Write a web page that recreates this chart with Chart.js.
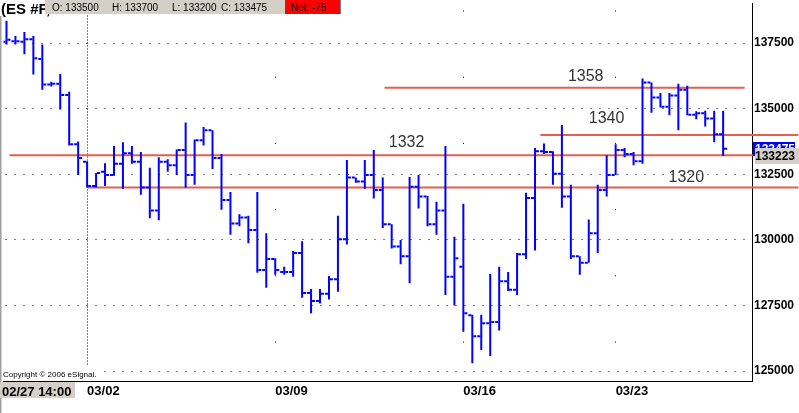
<!DOCTYPE html>
<html><head><meta charset="utf-8">
<script src="https://cdn.jsdelivr.net/npm/chart.js"></script>
<style>html,body{margin:0;padding:0;background:#fff;overflow:hidden}canvas{display:block}</style>
</head><body>
<canvas id="c" width="799" height="413"></canvas>
<script>
// ---- data ----
const opens  = [137550,137575,137550,137650,136900,135925,135950,135525,133650,132975,
                132050,132600,132475,132900,133300,132975,132000,131125,132975,132850,
                133425,132475,133800,134175,133125,131525,130625,130850,130375,128850,
                129275,128775,128775,129500,127975,127675,127950,128500,130025,132375,
                132225,132475,131900,130600,129750,129375,132025,131650,130600,131125,
                128600,128975,127125,126325,126825,126875,128425,128100,129450,131600,
                133375,133350,132525,131650,129375,129125,130250,131900,132475,133425,
                133275,133000,136000,135425,135075,135500,135725,134775,134825,134625,
                134025];
const highs  = [138350,137775,137925,137775,137450,136025,136325,135650,133750,133000,
                132550,132925,133575,133725,133575,133350,132750,133150,133075,133450,
                134475,133825,134300,134175,133275,131825,130975,130925,131825,130250,
                129300,128975,129575,129950,128125,128125,128625,130925,133050,132375,
                133050,133425,132375,130600,130000,132400,132475,131675,131450,133575,
                130125,131375,127150,127150,128700,128975,128775,129500,131800,133500,
                133675,133375,134375,132100,129375,130775,132100,133225,133650,133500,
                133350,136150,136000,135600,135600,135950,135875,134900,134925,134925,
                134925];
const lows   = [137450,137450,137075,136300,135725,135850,134975,133600,132475,132000,
                132000,132050,132450,131950,132900,131725,130825,130750,132600,132475,
                132000,132100,133600,132700,131150,130200,130525,129875,128750,128175,
                128675,128675,128600,127800,127200,127575,127725,128025,129825,132175,
                131950,131575,130450,129675,129075,128350,131200,130525,130200,127900,
                127500,126500,125300,125800,125575,126550,128050,127900,129275,129600,
                133275,132100,131225,129275,128675,129125,129500,131650,132475,133150,
                132850,132900,134850,135050,134750,134175,134750,134600,134325,133725,
                133200];
const closes = [137625,137575,137650,136925,135925,135950,135525,133650,133125,132050,
                132550,132475,132900,133300,132975,132000,131125,132975,132850,133425,
                132475,133800,134175,133125,131525,130625,130850,130375,128850,129275,
                128850,128775,129500,127975,127675,127950,128500,130025,132375,132225,
                132475,131900,130600,129750,129375,132025,131650,130600,131125,128600,
                129300,127200,126325,126825,126875,128425,128100,129450,131600,133375,
                133350,132525,131650,129375,129125,130250,131900,132475,133425,133275,
                133000,136000,135425,135075,135500,135725,134775,134825,134625,134025,
                133475];
const weekIdx    = [9, 30, 51, 68];
const weekLabels = ['03/02', '03/09', '03/16', '03/23'];
const firstLabel = '02/27 14:00';
const yTicks     = [125000, 127500, 130000, 132500, 135000, 137500];
const levelValues = [135800, 134000, 133223, 132000];
const levelLabels = ['1358', '1340', '1332', '1320'];
const levelFrom   = [42.2, 59.6, 0.33, 9.1];
const levelTo     = [82.4, 88.4, 83.6, 88.4];
const headerSym   = '(ES #F,';
const headerVals  = ['O: 133500', 'H: 133700', 'L: 133200', 'C: 133475'];
const headerNet   = 'Net: -75';
const lastPrice   = 133475;
const copyright   = 'Copyright \u00A9 2006 eSignal.';

// ---- style ----
const FONT = '"Liberation Sans", Arial, Helvetica, sans-serif';
const BLUE = '#0000ff';
const RED = '#e2604c';
const GREYBOX = '#d4d0c8';
const BAR_SPACING = 9;               // px per bar
const TICK_OFF = 2.5 / BAR_SPACING;  // open/close tick offset in index units
const levelLabelAt = [62.67, 65.0, 42.67, 73.9];
const levelLabelDy = [-11.5, -16, -13, -9.6];
const headerX = [52, 112, 172, 221];

const datasets = [
  { type: 'bar', data: highs.map((h, i) => ({x: i, y: [lows[i], h]})),
    backgroundColor: BLUE, borderWidth: 0, barThickness: 2, inflateAmount: 0,
    grouped: false, order: 1 },
  { type: 'scatter', data: opens.map((o, i) => ({x: i - TICK_OFF, y: o})),
    showLine: false, pointStyle: 'line', pointRadius: 1.5, pointHoverRadius: 1.5,
    pointBorderWidth: 2, pointBorderColor: BLUE, pointBackgroundColor: BLUE, order: 0 },
  { type: 'scatter', data: closes.map((c, i) => ({x: i + TICK_OFF, y: c})),
    showLine: false, pointStyle: 'line', pointRadius: 1.5, pointHoverRadius: 1.5,
    pointBorderWidth: 2, pointBorderColor: BLUE, pointBackgroundColor: BLUE, order: 0 }
];
levelValues.forEach((v, k) => datasets.push({
  type: 'line', data: [{x: levelFrom[k], y: v}, {x: levelTo[k], y: v}],
  borderColor: RED, borderWidth: 2, pointRadius: 0, tension: 0, clip: false, order: 10
}));

const decor = {
  id: 'decor',
  afterDatasetsDraw(chart) {
    const {ctx} = chart;
    const xs = chart.scales.x, ys = chart.scales.y;
    ctx.save();
    // level labels
    ctx.font = '16px ' + FONT; ctx.fillStyle = '#333'; ctx.textBaseline = 'middle'; ctx.textAlign = 'left';
    levelLabels.forEach((t, k) => ctx.fillText(t, xs.getPixelForValue(levelLabelAt[k]),
      ys.getPixelForValue(levelValues[k]) + levelLabelDy[k]));
    // copyright
    ctx.fillStyle = '#fff'; ctx.fillRect(2, 366, 102, 14);
    ctx.font = '8px ' + FONT; ctx.fillStyle = '#000'; ctx.textBaseline = 'alphabetic';
    ctx.fillText(copyright, 3, 377);
    // right axis price boxes
    const yl = ys.getPixelForValue(lastPrice);
    ctx.fillStyle = BLUE; ctx.fillRect(753, Math.round(yl) - 7, 42, 14);
    ctx.font = 'bold 12px ' + FONT; ctx.fillStyle = '#fff';
    ctx.fillText(String(lastPrice), 755, Math.round(yl) + 4);
    const yv = ys.getPixelForValue(levelValues[2]);
    ctx.fillStyle = GREYBOX; ctx.fillRect(755, Math.round(yv) - 7, 44, 16);
    ctx.fillStyle = '#000'; ctx.fillText(String(levelValues[2]), 755, Math.round(yv) + 5);
    // left border
    ctx.fillStyle = '#a0a0a0'; ctx.fillRect(0, 0, 1.5, 413);
    // first date label
    ctx.fillStyle = GREYBOX; ctx.fillRect(0, 382, 75, 16);
    ctx.font = 'bold 13px ' + FONT; ctx.fillStyle = '#000';
    ctx.fillText(firstLabel, 2, 396);
    // header
    ctx.fillStyle = '#fff'; ctx.fillRect(0, 0, 45, 16);
    ctx.font = 'bold 15px ' + FONT; ctx.fillStyle = '#000';
    ctx.fillText(headerSym, 1, 14);
    ctx.fillStyle = GREYBOX; ctx.fillRect(45, 0, 240, 14);
    ctx.fillStyle = '#ff0000'; ctx.fillRect(285, 0, 55, 14);
    ctx.fillStyle = '#808080'; ctx.fillRect(340, 0, 1, 14);
    ctx.font = '10px ' + FONT; ctx.fillStyle = '#000';
    headerVals.forEach((t, k) => ctx.fillText(t, headerX[k], 11));
    ctx.fillText(headerNet, 291, 11);
    ctx.restore();
  }
};

new Chart(document.getElementById('c'), {
  type: 'scatter',
  data: { datasets },
  options: {
    responsive: false, maintainAspectRatio: false, animation: false, events: [],
    layout: { padding: 0 },
    plugins: { legend: { display: false }, tooltip: { enabled: false } },
    scales: {
      x: {
        type: 'linear', position: 'bottom', offset: false,
        min: -1 / 3, max: 752 / BAR_SPACING - 1 / 3,
        afterBuildTicks: s => { s.ticks = weekIdx.map(v => ({value: v})); },
        afterFit: s => { s.height = 32; s.paddingLeft = 0; s.paddingRight = 0; },
        ticks: { callback: (v, i) => weekLabels[i], autoSkip: false, maxRotation: 0, minRotation: 0,
                 align: 'start', padding: 3, color: '#000', font: { family: FONT, size: 13, weight: 'bold' } },
        grid: { color: '#000', lineWidth: 1, drawTicks: false, offset: false },
        border: { display: true, color: '#000', width: 1,
                  dash: c => c.index === 0 ? [1, 2] : [1, 65.2],
                  dashOffset: c => c.index === 0 ? 0 : 59.2 }
      },
      y: {
        type: 'linear', position: 'right',
        min: 124622.4, max: 139010.6,
        afterBuildTicks: s => { s.ticks = yTicks.map(v => ({value: v})); },
        afterFit: s => { s.width = 47; s.paddingTop = 0; s.paddingBottom = 0; },
        ticks: { callback: v => String(v), padding: 2, color: '#000',
                 font: { family: FONT, size: 12, weight: 'bold' } },
        grid: { color: '#000', lineWidth: 1, drawTicks: false },
        border: { display: true, color: '#000', width: 1, dash: [1, 8], dashOffset: 7 }
      }
    }
  },
  plugins: [decor]
});
</script>
</body></html>
